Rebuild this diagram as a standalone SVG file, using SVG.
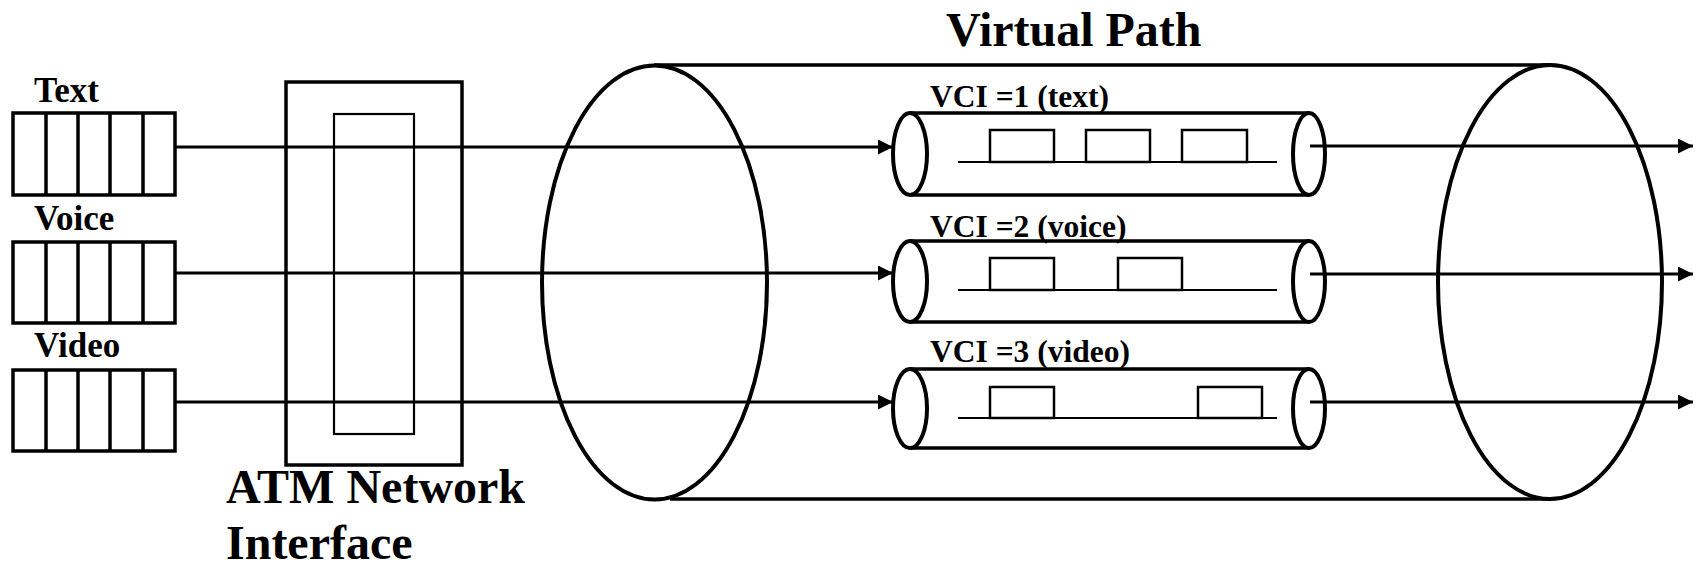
<svg xmlns="http://www.w3.org/2000/svg" width="1704" height="569" viewBox="0 0 1704 569">
<defs>
<marker id="arr" viewBox="0 0 10 10" refX="10" refY="5" markerWidth="15" markerHeight="15" markerUnits="userSpaceOnUse" orient="auto">
<path d="M0,0 L10,5 L0,10 Z" fill="#000"/>
</marker>
<style>
text{font-family:"Liberation Serif","Times New Roman",serif;font-weight:bold;fill:#000}
.lbl{font-size:35px}
.vci{font-size:31.5px}
.big{font-size:48px}
.thick{fill:none;stroke:#000;stroke-width:4}
.med{fill:none;stroke:#000;stroke-width:3.5}
.thin{fill:none;stroke:#000;stroke-width:2.2}
.conn{fill:none;stroke:#000;stroke-width:3.2}
.cell{fill:none;stroke:#000;stroke-width:2.5}
</style>
</defs>
<rect width="1704" height="569" fill="#fff"/>

<g id="queue-text">
<text class="lbl" x="34" y="102">Text</text>
<rect class="med" x="13" y="113" width="162" height="82"/>
<path class="med" d="M46,113V195M78,113V195M110,113V195M143,113V195"/>
</g>
<g id="queue-voice">
<text class="lbl" x="34" y="230">Voice</text>
<rect class="med" x="13" y="242" width="162" height="81"/>
<path class="med" d="M46,242V323M78,242V323M110,242V323M143,242V323"/>
</g>
<g id="queue-video">
<text class="lbl" x="34" y="357">Video</text>
<rect class="med" x="13" y="370" width="162" height="81"/>
<path class="med" d="M46,370V451M78,370V451M110,370V451M143,370V451"/>
</g>

<g id="atm-interface">
<rect class="med" x="286" y="82" width="176" height="383"/>
<rect class="thin" x="334" y="114" width="80" height="320"/>
<text class="big" x="226" y="503">ATM Network</text>
<text class="big" x="226" y="559">Interface</text>
</g>

<g id="virtual-path">
<text class="big" x="946" y="46">Virtual Path</text>
<path class="med" d="M654,65H1550M670,499H1550"/>
<ellipse class="thick" cx="654.5" cy="282.5" rx="112.5" ry="217"/>
<ellipse class="thick" cx="1550" cy="282" rx="112" ry="217"/>
</g>

<g id="vc-text">
<text class="vci" x="930" y="107">VCI =1 (text)</text>
<path class="med" d="M910,113H1309M910,195H1309"/>
<ellipse class="thick" cx="910" cy="154" rx="17" ry="41" fill="#fff"/>
<ellipse class="thick" cx="1309" cy="154" rx="16" ry="41"/>
<path class="thin" d="M958,162H1277"/>
<rect class="cell" x="990" y="130" width="64" height="32"/>
<rect class="cell" x="1086" y="130" width="64" height="32"/>
<rect class="cell" x="1182" y="130" width="65" height="32"/>
</g>
<g id="vc-voice">
<text class="vci" x="930" y="237">VCI =2 (voice)</text>
<path class="med" d="M910,241H1309M910,322H1309"/>
<ellipse class="thick" cx="910" cy="281.5" rx="17" ry="40.5"/>
<ellipse class="thick" cx="1309" cy="281.5" rx="16" ry="40.5"/>
<path class="thin" d="M958,290H1277"/>
<rect class="cell" x="990" y="258" width="64" height="32"/>
<rect class="cell" x="1118" y="258" width="64" height="32"/>
</g>
<g id="vc-video">
<text class="vci" x="930" y="362">VCI =3 (video)</text>
<path class="med" d="M910,369H1309M910,448H1309"/>
<ellipse class="thick" cx="910" cy="408.5" rx="17" ry="39.5"/>
<ellipse class="thick" cx="1309" cy="408.5" rx="16" ry="39.5"/>
<path class="thin" d="M958,418H1277"/>
<rect class="cell" x="990" y="387" width="64" height="31"/>
<rect class="cell" x="1198" y="387" width="64" height="31"/>
</g>

<g id="connectors">
<line class="conn" x1="175" y1="147" x2="893" y2="147" marker-end="url(#arr)"/>
<line class="conn" x1="175" y1="273" x2="893" y2="273" marker-end="url(#arr)"/>
<line class="conn" x1="175" y1="402" x2="893" y2="402" marker-end="url(#arr)"/>
<line class="conn" x1="1310" y1="146" x2="1693" y2="146" marker-end="url(#arr)"/>
<line class="conn" x1="1310" y1="274" x2="1693" y2="274" marker-end="url(#arr)"/>
<line class="conn" x1="1310" y1="402" x2="1693" y2="402" marker-end="url(#arr)"/>
</g>
</svg>
